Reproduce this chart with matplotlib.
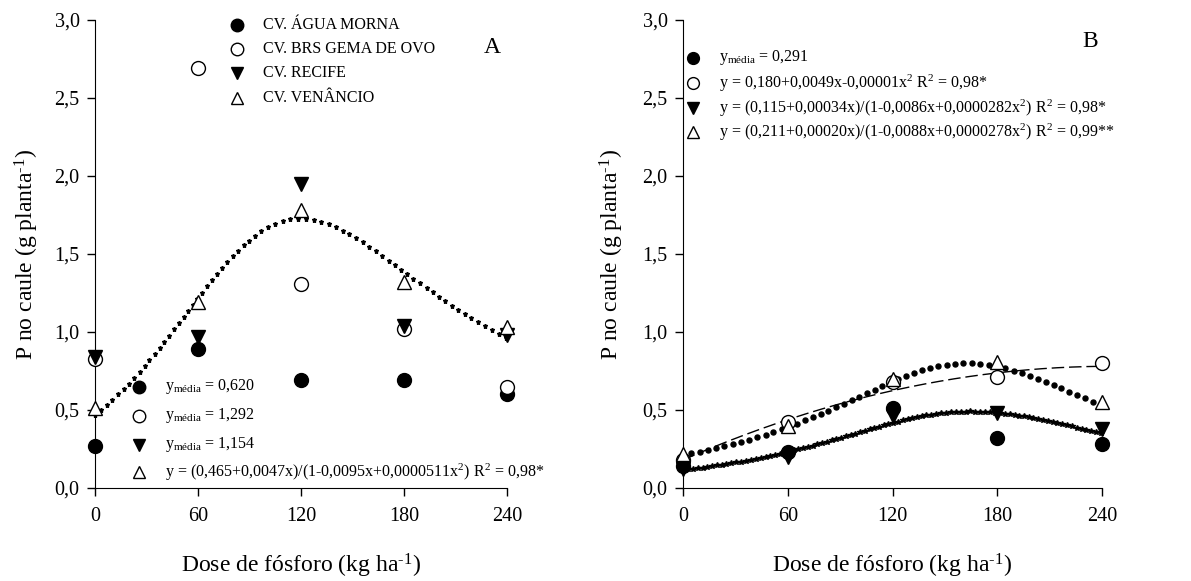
import numpy as np
import matplotlib
matplotlib.use("Agg")
import matplotlib.pyplot as plt

plt.rcParams['font.family'] = ['Liberation Serif', 'DejaVu Serif']
plt.rcParams['mathtext.fontset'] = 'custom'
plt.rcParams['mathtext.rm'] = 'Liberation Serif'
plt.rcParams['mathtext.it'] = 'Liberation Serif:italic'

# data
dose = [0, 60, 120, 180, 240]
xticks = [0, 60, 120, 180, 240]
yticks = [0.0, 0.5, 1.0, 1.5, 2.0, 2.5, 3.0]
ytick_labels = ['0,0', '0,5', '1,0', '1,5', '2,0', '2,5', '3,0']

# panel A
a_agua_morna = [0.27, 0.89, 0.69, 0.69, 0.60]
a_gema_ovo = [0.83, 2.69, 1.31, 1.02, 0.65]
a_recife = [0.84, 0.97, 1.95, 1.04, 0.98]
a_venancio = [0.51, 1.19, 1.78, 1.32, 1.03]

# panel B
b_agua_morna = [0.14, 0.23, 0.51, 0.32, 0.28]
b_gema_ovo = [0.18, 0.42, 0.68, 0.71, 0.80]
b_recife = [0.12, 0.20, 0.46, 0.48, 0.38]
b_venancio = [0.22, 0.40, 0.70, 0.81, 0.55]

# regression coefficients printed on the chart
fitA_venancio = [0.465, 0.0047, -0.0095, 0.0000511]   # (a+bx)/(1+cx+dx^2)
fitB_gema = [0.180, 0.0049, -0.00001]                 # a+bx+cx^2
fitB_recife = [0.115, 0.00034, -0.0086, 0.0000282]
fitB_venancio = [0.211, 0.00020, -0.0088, 0.0000278]

cultivars = ['CV. ÁGUA MORNA', 'CV. BRS GEMA DE OVO', 'CV. RECIFE', 'CV. VENÂNCIO']
legA_low = [r'$\mathrm{y}_{\mathrm{média}}$ = 0,620',
            r'$\mathrm{y}_{\mathrm{média}}$ = 1,292',
            r'$\mathrm{y}_{\mathrm{média}}$ = 1,154',
            r'y = (0,465+0,0047x)/(1-0,0095x+0,0000511x$^{2}$) R$^{2}$ = 0,98*']
legB = [r'$\mathrm{y}_{\mathrm{média}}$ = 0,291',
        r'y = 0,180+0,0049x-0,00001x$^{2}$ R$^{2}$ = 0,98*',
        r'y = (0,115+0,00034x)/(1-0,0086x+0,0000282x$^{2}$) R$^{2}$ = 0,98*',
        r'y = (0,211+0,00020x)/(1-0,0088x+0,0000278x$^{2}$) R$^{2}$ = 0,99**']

styles = [dict(marker='o', mfc='black', mec='black'),
          dict(marker='o', mfc='white', mec='black'),
          dict(marker='v', mfc='black', mec='black'),
          dict(marker='^', mfc='white', mec='black')]


def rational(c, x):
    return (c[0] + c[1] * x) / (1 + c[2] * x + c[3] * x ** 2)


W, H = 1191, 581
fig = plt.figure(figsize=(W / 100, H / 100), dpi=100)
axA = fig.add_axes([95 / W, 1 - 488 / H, 412 / W, 468 / H])
axB = fig.add_axes([683 / W, 1 - 488 / H, 419 / W, 468 / H])

xs = np.linspace(0, 240, 600)

# curves
axA.plot(xs, rational(fitA_venancio, xs), ls='none', marker='*', ms=3.6,
         color='black', markevery=0.0125, zorder=2, clip_on=False)
axB.plot(xs, fitB_gema[0] + fitB_gema[1] * xs + fitB_gema[2] * xs ** 2,
         color='black', lw=1.0, ls=(0, (9, 3.5)), zorder=2)
axB.plot(xs, rational(fitB_recife, xs), ls='none', marker='*', ms=4.3,
         color='black', markevery=0.0078, zorder=2, clip_on=False)
axB.plot(xs, rational(fitB_venancio, xs), ls='none', marker='o', ms=3.6,
         color='black', markevery=0.0135, zorder=2, clip_on=False)

seriesA = [a_agua_morna, a_gema_ovo, a_recife, a_venancio]
seriesB = [b_agua_morna, b_gema_ovo, b_recife, b_venancio]
for ax, series in [(axA, seriesA), (axB, seriesB)]:
    for vals, st in zip(series, styles):
        ax.plot(dose, vals, ls='none', ms=10, mew=1.0, zorder=3,
                clip_on=False, **st)

for ax in (axA, axB):
    ax.set_xlim(0, 240)
    ax.set_ylim(0, 3.0)
    ax.set_xticks(xticks)
    ax.set_xticklabels([str(t) for t in xticks])
    ax.set_yticks(yticks)
    ax.set_yticklabels(ytick_labels)
    ax.spines['top'].set_visible(False)
    ax.spines['right'].set_visible(False)
    ax.tick_params(direction='out', length=6, width=1, labelsize=14.5)
    ax.tick_params(axis='x', pad=8)
    ax.tick_params(axis='y', pad=5)
    ax.patch.set_alpha(0)


# legends drawn by hand
def legend_rows(ax, xm, xt, ys, labels, size, msize):
    for y, lab, st in zip(ys, labels, styles):
        ax.plot([xm], [y], transform=ax.transAxes, ls='none', ms=msize,
                mew=1.0, clip_on=False, **st)
        ax.text(xt, y, lab, transform=ax.transAxes, fontsize=size,
                va='center', ha='left')

legend_rows(axA, 0.345, 0.408, [0.989, 0.938, 0.887, 0.833], cultivars, 11.5, 9)
legend_rows(axA, 0.107, 0.170, [0.216, 0.154, 0.092, 0.034], legA_low, 11.5, 9)
legend_rows(axB, 0.024, 0.086, [0.919, 0.865, 0.812, 0.761], legB, 11.5, 8.5)

axA.text(0.964, 0.942, 'A', transform=axA.transAxes, fontsize=17,
         ha='center', va='center')
axB.text(0.971, 0.953, 'B', transform=axB.transAxes, fontsize=17,
         ha='center', va='center')

# axis titles
for xc, xl in [(27, 301), (612, 892)]:
    fig.text(xc / W, 1 - 254 / H, r'P no caule (g planta$^{\text{-1}}$)',
             rotation=90, ha='center', va='center', fontsize=17)
    fig.text(xl / W, 1 - 566 / H, r'Dose de fósforo (kg ha$^{\text{-1}}$)',
             ha='center', va='center', fontsize=17)

fig.savefig('out.png', dpi=100)
